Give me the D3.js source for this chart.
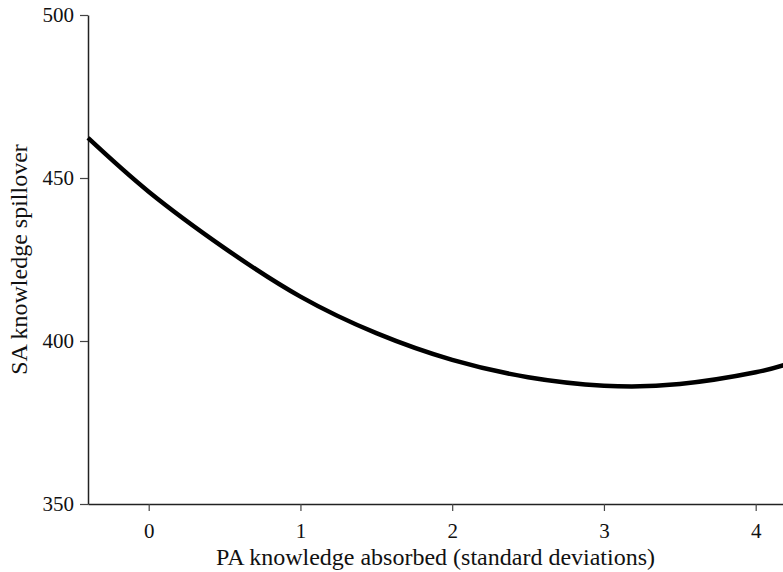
<!DOCTYPE html>
<html>
<head>
<meta charset="utf-8">
<script src="https://cdn.jsdelivr.net/npm/d3@7"></script>
<style>
  body { margin: 0; background: #fff; }
  text { font-family: "Liberation Serif", "Times New Roman", serif; fill: #111; }
</style>
</head>
<body>
<div id="container"></div>
<script>
    // Values (x in SD, y in spillover units)
    const absorbed = [-0.4, 0, 0.5, 1, 1.5, 2, 2.5, 3, 3.5, 4, 4.2];
    const spillover = [462.3, 445.8, 428.5, 413.6, 402.4, 394.2, 388.9, 386.3, 386.8, 390.4, 392.8];
    const xTicks = [0, 1, 2, 3, 4];
    const yTicks = [350, 400, 450, 500];

    const width = 783, height = 572;

    const svg = d3.select("#container")
                    .append("svg")
                    .attr("width", width)
                    .attr("height", height);

    // Scales
    var x = d3.scaleLinear().domain([-0.4, 4.18]).range([88, 783]);
    var y = d3.scaleLinear().domain([350, 500]).range([504, 15]);

    // X axis
    svg.append("g")
        .attr("transform", "translate(0,504)")
        .call(d3.axisBottom(x).tickValues(xTicks).tickFormat(d3.format("d"))
                .tickSize(7).tickSizeOuter(0).tickPadding(12));

    // Y axis
    svg.append("g")
        .attr("transform", "translate(88,0)")
        .call(d3.axisLeft(y).tickValues(yTicks).tickFormat(d3.format("d"))
                .tickSize(8).tickSizeOuter(0).tickPadding(6));

    svg.selectAll(".domain").attr("stroke", "#222").attr("stroke-width", 1.5);
    svg.selectAll(".tick line").attr("stroke", "#444").attr("stroke-width", 1.2);
    svg.selectAll(".tick text")
        .attr("font-size", "21px")
        .attr("font-family", "Liberation Serif, Times New Roman, serif")
        .attr("fill", "#111");

    // Axis titles
    svg.append("text")
        .attr("x", (88 + 783) / 2)
        .attr("y", 565)
        .attr("text-anchor", "middle")
        .attr("font-size", "24px")
        .text("PA knowledge absorbed (standard deviations)");

    svg.append("text")
        .attr("transform", "translate(27," + (15 + 504) / 2 + ") rotate(-90)")
        .attr("text-anchor", "middle")
        .attr("font-size", "24px")
        .text("SA knowledge spillover");

    // The curve
    var line = d3.line()
        .x((d, i) => x(absorbed[i]))
        .y(d => y(d))
        .curve(d3.curveNatural);

    svg.append("path")
        .datum(spillover)
        .attr("fill", "none")
        .attr("stroke", "#000")
        .attr("stroke-width", 4.5)
        .attr("d", line);
</script>
</body>
</html>
